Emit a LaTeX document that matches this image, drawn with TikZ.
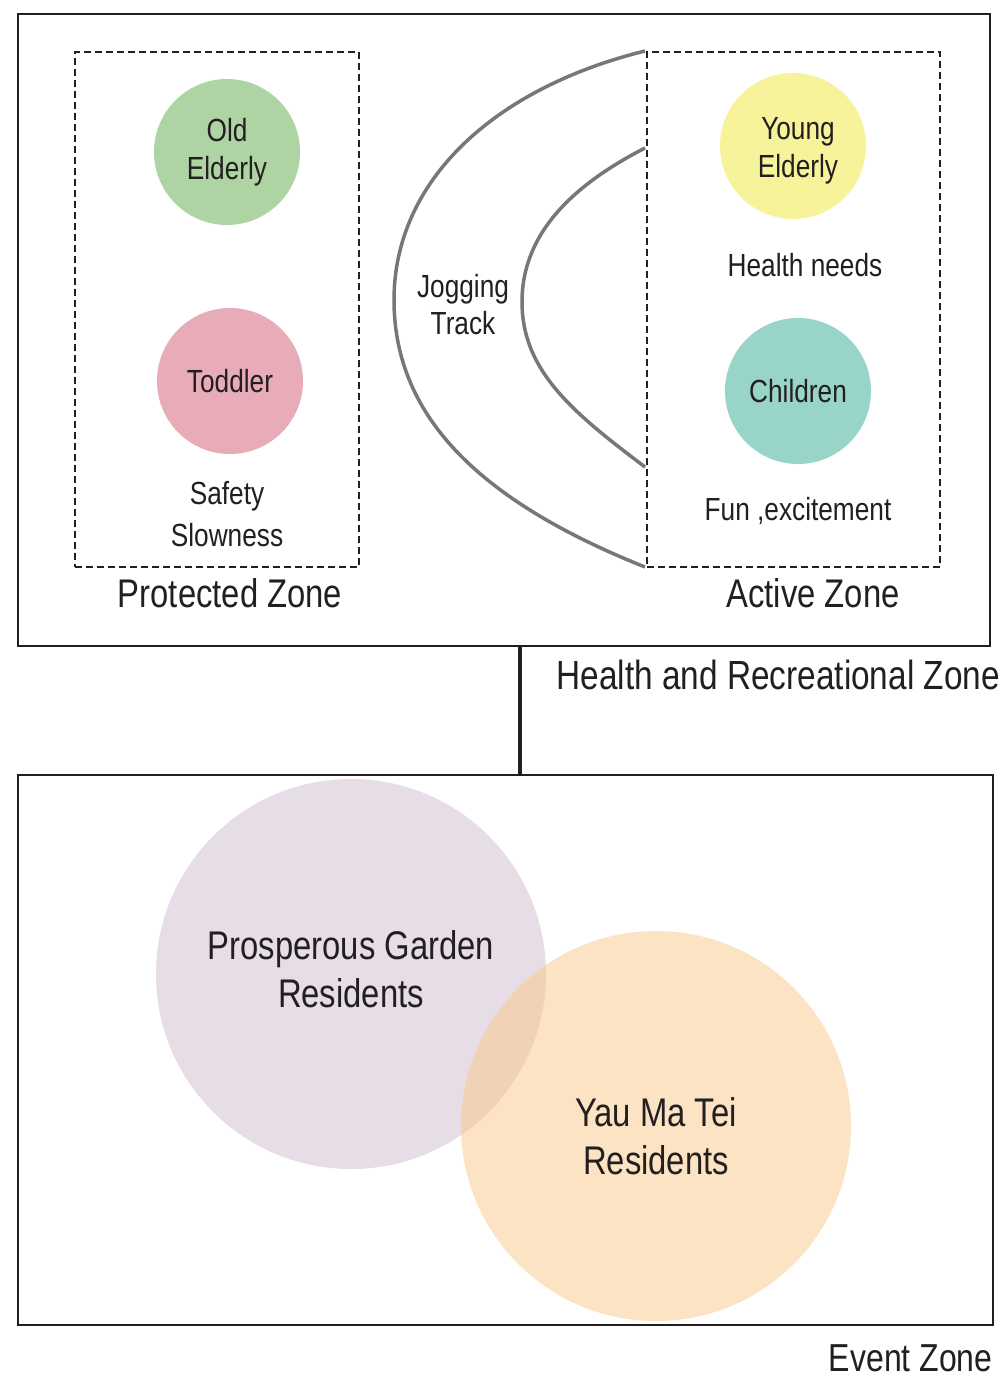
\documentclass[tikz,border=0pt]{standalone}
\usepackage{fontspec}
\setmainfont{Liberation Sans}[FakeStretch=0.82]
\definecolor{ink}{HTML}{231F20}
\definecolor{cgreen}{HTML}{AED4A4}
\definecolor{cpink}{HTML}{E8ABB8}
\definecolor{cyellow}{HTML}{F7F39A}
\definecolor{cteal}{HTML}{99D4C8}
\definecolor{cpurple}{HTML}{E6DDE6}
\definecolor{corange}{RGB}{251,201,137}
\definecolor{track}{HTML}{777777}
\begin{document}
\begin{tikzpicture}[x=1pt,y=-1pt,
  zonebox/.style={draw=ink, line width=2.5pt, inner sep=0pt},
  dashbox/.style={draw=ink, line width=2pt, dash pattern=on 7pt off 4pt, inner sep=0pt},
  person/.style={circle, inner sep=0pt, minimum size=146pt, align=center, text=ink,
    font=\fontsize{32}{38}\selectfont},
  personlabel/.style={inner sep=0pt, align=center, text=ink, font=\fontsize{32}{38}\selectfont},
  small/.style={text=ink, align=center, font=\fontsize{32}{42}\selectfont},
  big/.style={text=ink, align=center, font=\fontsize{40}{48}\selectfont},
  res/.style={circle, inner sep=0pt, minimum size=390pt},
  trackline/.style={draw=track, line width=3.5pt},
  conn/.style={draw=ink, line width=3.5pt}]
\useasboundingbox (0,0) rectangle (1003,1380);
\fill[white] (0,0) rectangle (1003,1380);

% zone boxes
\node[zonebox, minimum width=972pt, minimum height=632pt] (hrz) at (504,330) {};
\node[zonebox, minimum width=975pt, minimum height=550pt] (ez) at (505.5,1050) {};
\node[dashbox, minimum width=284pt, minimum height=515pt] (pz) at (217,309.5) {};
\node[dashbox, minimum width=293pt, minimum height=515pt] (az) at (793.5,309.5) {};

% jogging track
\draw[trackline] (645,51) .. controls (495,88) and (394,180) .. (394,300)
  .. controls (394,420) and (485,503) .. (645,567);
\draw[trackline] (645,148) .. controls (575,184) and (522,232) .. (522,302)
  .. controls (522,372) and (575,414) .. (645,467);
\node[small, font=\fontsize{32}{37}\selectfont] (jt) at (463,305) {Jogging\\Track};

% protected zone
\node[person, fill=cgreen] (old) at (227,152) {Old\\Elderly};
\node[person, fill=cpink] (tod) at (230,381) {Toddler};
\node[small] (safe) at (227,514) {Safety\\Slowness};
\node[big] (pzl) at (230,593) {Protected Zone};

% active zone
\node[person, fill=cyellow] (young) at (793,146) {};
\node[personlabel] (youngl) at (798,151) {Young\\Elderly};
\node[small] (hn) at (805,265) {Health needs};
\node[person, fill=cteal] (child) at (798,391) {Children};
\node[small] (fun) at (798,511) {Fun ,excitement};
\node[big] (azl) at (813,593) {Active Zone};

% zone labels
\node[big, anchor=west, font=\fontsize{40.7}{48}\selectfont] (hrzl) at (553,675) {Health and Recreational Zone};
\node[big, anchor=east, font=\fontsize{39}{48}\selectfont] (ezl) at (996,1358) {Event Zone};

% connector
\coordinate (cx) at (520,0);
\draw[conn] (hrz.south -| cx) -- (ez.north -| cx);

% event zone residents
\node[res, fill=cpurple] (pg) at (351,974) {};
\node[res, fill=corange, fill opacity=0.5] (ymt) at (656,1126) {};
\node[big] (pgl) at (351,969) {Prosperous Garden\\Residents};
\node[big] (ymtl) at (656,1136) {Yau Ma Tei\\Residents};
\end{tikzpicture}
\end{document}
